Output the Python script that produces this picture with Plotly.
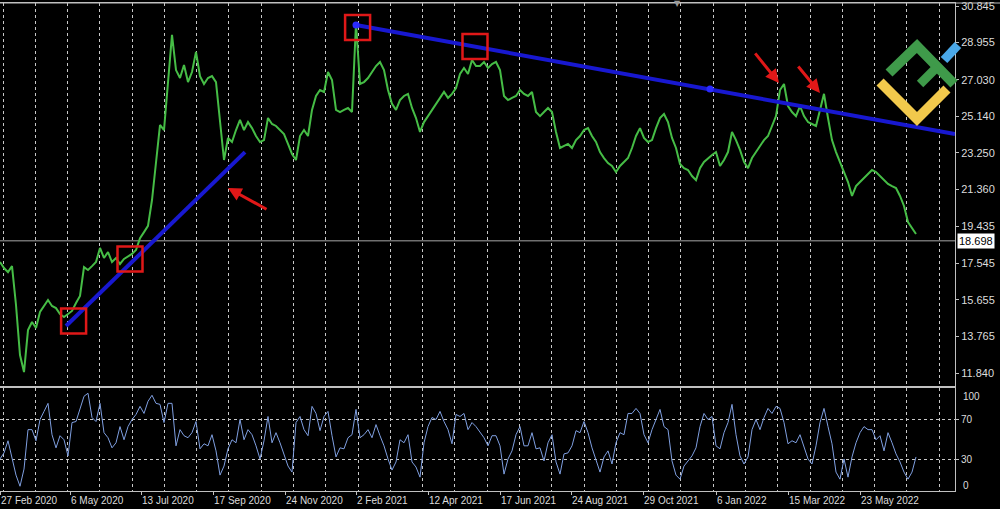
import plotly.graph_objects as go

# ---------------- data ----------------
PRICE = [
    17.60, 17.29, 17.08, 17.39, 15.38, 12.79, 11.91, 14.08, 14.50, 14.19,
    15.02, 15.33, 15.64, 15.33, 15.22, 14.91, 14.76, 14.91, 15.07, 15.48,
    15.85, 17.34, 17.19, 17.39, 17.60, 18.33, 17.81, 18.12, 17.60, 17.81,
    17.50, 17.76, 17.91, 18.02, 18.22, 18.84, 19.15, 19.47, 20.81, 22.88,
    24.69, 24.43, 26.76, 29.35, 27.53, 27.12, 27.79, 26.91, 27.43, 28.47,
    27.22, 26.81, 27.12, 27.22, 26.91, 24.69, 22.88, 24.02, 23.81, 24.43,
    24.95, 24.43, 24.84, 24.53, 24.12, 23.81, 23.91, 25.05, 24.74, 24.64,
    24.43, 24.22, 23.71, 23.19, 22.88, 24.12, 24.43, 24.12, 25.47, 26.19,
    26.50, 26.40, 27.43, 27.02, 25.47, 25.36, 25.47, 25.57, 25.36, 29.95,
    26.81, 26.91, 27.12, 27.43, 27.74, 27.95, 27.53, 26.50, 25.78, 25.47,
    25.98, 26.19, 26.30, 25.57, 25.05, 24.33, 24.84, 25.15, 25.47, 25.78,
    26.09, 26.40, 26.09, 26.30, 26.60, 27.33, 27.64, 27.33, 28.05, 27.74,
    27.74, 27.95, 27.64, 27.84, 27.95, 27.53, 26.19, 25.98, 26.09, 26.19,
    26.50, 26.30, 26.19, 26.40, 25.36, 25.15, 25.36, 25.57, 25.36, 24.33,
    23.50, 23.60, 23.71, 23.50, 23.91, 24.12, 24.43, 24.53, 24.12, 23.81,
    23.29, 22.98, 22.72, 22.57, 22.26, 22.57, 22.78, 22.98, 23.50, 24.12,
    24.53, 24.02, 23.81, 23.91, 24.53, 25.05, 25.26, 24.84, 24.02, 23.50,
    22.67, 22.46, 22.36, 22.05, 21.84, 22.46, 22.78, 22.98, 23.14, 23.29,
    22.57, 22.88, 23.29, 24.33, 23.91, 23.40, 22.78, 22.46, 22.98, 23.29,
    23.60, 23.91, 24.12, 24.64, 25.15, 26.50, 26.81, 25.67, 25.36, 25.15,
    25.67, 25.15, 24.84, 24.74, 24.64, 25.47, 26.30, 25.05, 23.91, 23.29,
    22.78, 22.26, 21.74, 21.02, 21.53, 21.74, 21.95, 22.16, 22.36, 22.26,
    22.05, 21.84, 21.64, 21.53, 21.43, 21.02, 20.50, 19.67, 19.36, 19.05,
]

OSC = [
    31, 37, 49, 31, 15, 4, 21, 60, 60, 49,
    70, 78, 86, 55, 42, 54, 50, 34, 67, 68,
    81, 93, 96, 72, 68, 86, 57, 52, 42, 47,
    63, 50, 63, 70, 75, 83, 76, 88, 94, 86,
    85, 67, 86, 86, 44, 60, 54, 52, 57, 68,
    41, 46, 44, 55, 39, 15, 24, 41, 50, 47,
    70, 50, 60, 55, 44, 31, 49, 73, 47, 57,
    47, 36, 24, 18, 67, 73, 60, 54, 83, 76,
    59, 73, 78, 54, 33, 42, 41, 52, 55, 80,
    52, 55, 60, 52, 65, 54, 44, 31, 20, 28,
    50, 47, 55, 28, 23, 13, 47, 63, 72, 70,
    78, 68, 60, 46, 75, 73, 76, 60, 67, 63,
    57, 52, 44, 54, 54,
    44, 16, 31, 39, 55, 63, 44, 44, 57, 41,
    42, 29, 47, 55, 28, 16, 36, 37, 44, 59,
    57, 68, 57, 42, 29, 18, 33, 39, 26, 47,
    57, 55, 76, 76, 81, 76, 55, 47, 60, 70,
    80, 63, 60, 29, 15, 11, 24, 29, 34, 42,
    63, 76, 70, 73, 44, 41, 57, 67, 85, 55,
    34, 26, 33, 60, 70, 60, 72, 81, 76, 83,
    81, 67, 46, 49, 47, 55, 42, 31, 26, 44,
    67, 81, 63, 46, 18, 11, 31, 13, 33, 47,
    57, 63, 60, 60, 50, 54, 39, 57, 47, 36,
    28, 18, 11, 18, 33,
]

BAR_INDEX = list(range(len(PRICE)))

PRICE_TICKS = [30.845, 28.955, 27.030, 25.140, 23.250, 21.360,
               19.435, 17.545, 15.655, 13.765, 11.840]
CURRENT_PRICE = 18.698
OSC_LEVELS = [30, 70]
OSC_EXTREMES = [100, 0]

DATE_LABELS = ["27 Feb 2020", "6 May 2020", "13 Jul 2020", "17 Sep 2020",
               "24 Nov 2020", "2 Feb 2021", "12 Apr 2021", "17 Jun 2021",
               "24 Aug 2021", "29 Oct 2021", "6 Jan 2022", "15 Mar 2022",
               "23 May 2022"]
DATE_POS = [0, 17.5, 35.25, 53.25, 71.25, 89, 107, 125, 142.75, 160.75,
            179, 197, 215]

TREND_UP_X = [16.5, 61.25]
TREND_UP_Y = [14.29, 23.29]
TREND_DOWN_X = [89, 238.75]
TREND_DOWN_Y = [29.86, 24.22]
TREND_DOWN_ANCHOR_X = [89, 177.5]
TREND_DOWN_ANCHOR_Y = [29.86, 26.55]

MARKED_X = [18.4, 32.5, 89.4, 118.75]
MARKED_Y = [14.55, 17.76, 29.73, 28.75]

ARROW_HEAD_X = [57, 194.75, 205]
ARROW_HEAD_Y = [21.43, 26.86, 26.35]
ARROW_TAIL_X = [67, 188.5, 199.25]
ARROW_TAIL_Y = [20.29, 28.47, 27.79]

X_RANGE = [0, 238.75]

# ---------------- style ----------------
W, H = 1000, 509
ML, MR, MT, MB = 0, 45, 3, 18
GRID = "#c8c8c8"
AXIS = "#c0c0c0"
TXT = "#dcdcdc"
FONT = "Liberation Sans"

fig = go.Figure()

fig.add_trace(go.Scatter(x=BAR_INDEX, y=PRICE, mode="lines",
                         line=dict(color="#46bd46", width=2),
                         xaxis="x", yaxis="y", hoverinfo="skip"))

fig.add_trace(go.Scatter(x=TREND_UP_X, y=TREND_UP_Y, mode="lines",
                         line=dict(color="#1818d0", width=4),
                         xaxis="x", yaxis="y", hoverinfo="skip"))
fig.add_trace(go.Scatter(x=TREND_DOWN_X, y=TREND_DOWN_Y, mode="lines",
                         line=dict(color="#1818d0", width=4),
                         xaxis="x", yaxis="y", hoverinfo="skip"))
fig.add_trace(go.Scatter(x=TREND_DOWN_ANCHOR_X, y=TREND_DOWN_ANCHOR_Y,
                         mode="markers",
                         marker=dict(color="#2a2aff", size=7),
                         xaxis="x", yaxis="y", hoverinfo="skip"))

fig.add_trace(go.Scatter(x=MARKED_X, y=MARKED_Y, mode="markers",
                         marker=dict(symbol="square-open", size=25,
                                     color="#e01818",
                                     line=dict(color="#e01818", width=2.5)),
                         xaxis="x", yaxis="y", hoverinfo="skip"))

fig.add_trace(go.Scatter(x=BAR_INDEX, y=OSC, mode="lines",
                         line=dict(color="#7f9fe0", width=1),
                         xaxis="x2", yaxis="y2", hoverinfo="skip"))

# current price line
fig.add_shape(type="line", xref="paper", x0=0, x1=1, yref="y",
              y0=CURRENT_PRICE, y1=CURRENT_PRICE,
              line=dict(color="#a8a8a8", width=1), layer="below")
# top border continuing over the price scale
fig.add_shape(type="line", xref="paper", x0=0, x1=1.05, yref="paper",
              y0=1, y1=1, line=dict(color=AXIS, width=1))

annotations = []
annotations.append(dict(xref="paper", x=1, xanchor="left", xshift=2,
                        yref="y", y=CURRENT_PRICE, yanchor="middle",
                        text=f"{CURRENT_PRICE:.3f}", showarrow=False,
                        bgcolor="#ffffff", borderpad=1,
                        font=dict(color="#000000", size=11, family=FONT)))
for v in OSC_EXTREMES:
    annotations.append(dict(xref="paper", x=1, xanchor="left", xshift=6,
                            yref="y2", y=v,
                            yanchor="top" if v == 100 else "bottom",
                            yshift=0 if v == 100 else -3,
                            text=str(v), showarrow=False,
                            font=dict(color=TXT, size=10, family=FONT)))
for hx, hy, tx, ty in zip(ARROW_HEAD_X, ARROW_HEAD_Y, ARROW_TAIL_X, ARROW_TAIL_Y):
    annotations.append(dict(xref="x", yref="y", x=hx, y=hy,
                            axref="x", ayref="y", ax=tx, ay=ty,
                            text="", showarrow=True, arrowhead=2,
                            arrowsize=0.9, arrowwidth=3, arrowcolor="#e01818"))
# chart-shift marker at the top edge
annotations.append(dict(xref="x", x=169.25, yref="paper", y=1, yanchor="middle",
                        text="▼", showarrow=False,
                        font=dict(color="#9a9a9a", size=8, family="DejaVu Sans")))


def px(xp, yp):
    plot_w = W - ML - MR
    plot_h = H - MT - MB
    return (xp - ML) / plot_w, (H - MB - yp) / plot_h


def stroke(points, color, width=10):
    pts = [px(a, b) for a, b in points]
    path = "M " + " L ".join(f"{a:.4f},{b:.4f}" for a, b in pts)
    fig.add_shape(type="path", xref="paper", yref="paper", path=path,
                  line=dict(color=color, width=width))


# logo
stroke([(880, 82), (917, 119), (947, 89)], "#f2c94c")
stroke([(889, 73), (917, 46), (954, 84)], "#3f9a4a")
stroke([(920, 84), (937, 67)], "#3f9a4a", 9)
stroke([(944, 60), (958, 45)], "#4aa8e8", 9)

fig.update_layout(
    width=W, height=H,
    margin=dict(l=ML, r=MR, t=MT, b=MB, pad=0),
    paper_bgcolor="#000000", plot_bgcolor="#000000",
    showlegend=False,
    font=dict(family=FONT, size=10, color=TXT),
    annotations=annotations,
    xaxis=dict(domain=[0, 1], anchor="y", range=X_RANGE,
               tickmode="linear", tick0=0.75, dtick=8.07,
               showgrid=True, gridcolor=GRID, griddash="dot", gridwidth=1,
               showticklabels=False, ticks="", zeroline=False,
               showline=True, linecolor=AXIS, linewidth=1, mirror=True,
               automargin=False),
    xaxis2=dict(domain=[0, 1], anchor="y2", range=X_RANGE, matches="x",
                tickmode="array", tickvals=DATE_POS, ticktext=DATE_LABELS,
                ticks="outside", ticklen=3, tickcolor=AXIS,
                ticklabelposition="outside right",
                ticklabeloverflow="allow",
                tickfont=dict(size=10, color=TXT, family=FONT),
                showgrid=False, zeroline=False,
                minor=dict(tick0=0.75, dtick=8.07, showgrid=True,
                           gridcolor=GRID, griddash="dot", gridwidth=1,
                           ticks=""),
                showline=True, linecolor=AXIS, linewidth=1, mirror=True,
                automargin=False),
    yaxis=dict(domain=[0.2152, 1], anchor="x", side="right",
               range=[11.19, 31.0],
               tickmode="array", tickvals=PRICE_TICKS, tickformat=".3f",
               ticks="outside", ticklen=3, tickcolor=AXIS,
               ticklabeloverflow="allow",
               tickfont=dict(size=11, color=TXT, family=FONT),
               showgrid=False, zeroline=False,
               showline=True, linecolor=AXIS, linewidth=1,
               automargin=False),
    yaxis2=dict(domain=[0, 0.2111], anchor="x2", side="right",
                range=[-0.7, 101.2],
                tickmode="array", tickvals=OSC_LEVELS,
                ticks="outside", ticklen=3, tickcolor=AXIS,
                tickfont=dict(size=10, color=TXT, family=FONT),
                showgrid=True, gridcolor=GRID, griddash="dot", gridwidth=1,
                zeroline=False,
                showline=True, linecolor=AXIS, linewidth=1,
                automargin=False),
)

fig.write_html("out.html",
               config={"displayModeBar": False},
               post_script="document.body.style.margin='0px';"
                           "document.body.style.overflow='hidden';")
